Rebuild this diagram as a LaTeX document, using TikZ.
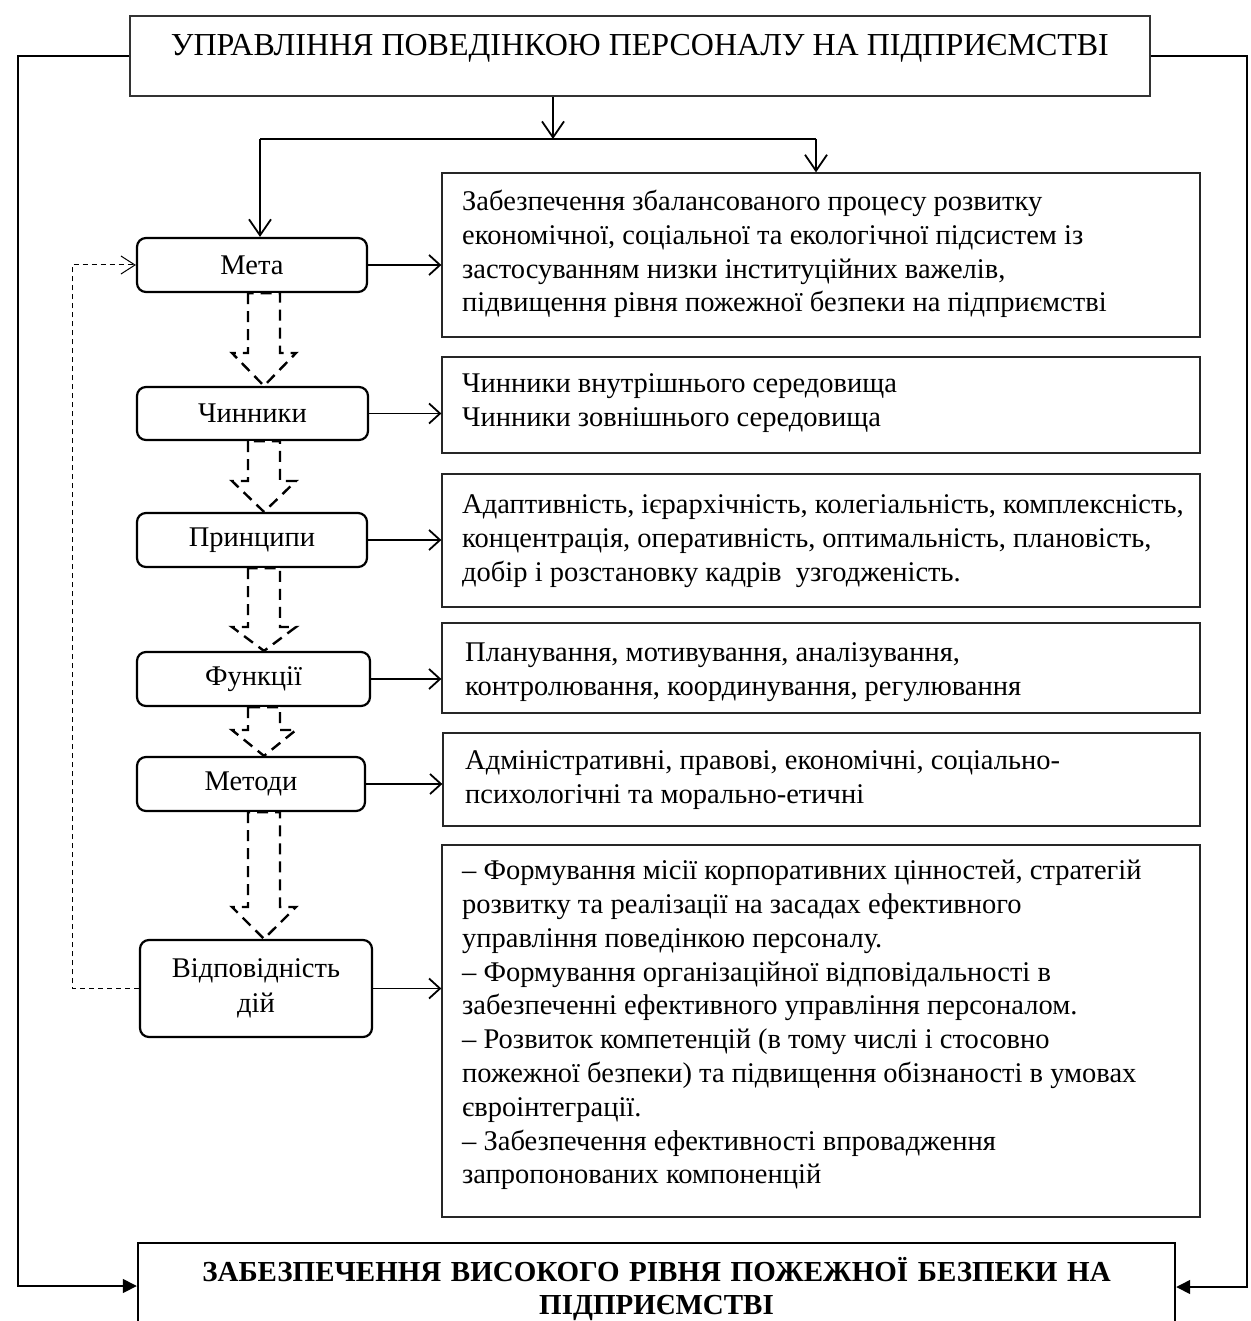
\documentclass[tikz,border=0pt]{standalone}
\usepackage{fontspec}
\setmainfont{Liberation Serif}
\usetikzlibrary{arrows.meta}
\begin{document}
\begin{tikzpicture}[x=1pt,y=-1pt,
 lbox/.style={draw, rounded corners=9pt, line width=2.2pt, align=center, inner sep=0pt, font=\fontsize{28.5}{35}\selectfont},
 rbox/.style={draw=black!85, line width=1.3pt, inner sep=0pt, minimum width=758pt},
 rtext/.style={align=left, inner sep=0pt, anchor=west, font=\fontsize{28.5}{33.8}\selectfont},
 conn/.style={line width=1.8pt, -{Straight Barb[length=16pt,width=22pt]}},
 hconn/.style={line width=1.8pt, -{Straight Barb[length=11pt,width=20pt]}},
 blockarr/.style={draw, fill=white, line width=2.4pt, dash pattern=on 11pt off 7pt},
 fb/.style={line width=1pt, dash pattern=on 5pt off 4pt, -{Straight Barb[length=14pt,width=18pt]}},
 side/.style={line width=1.5pt, -{Triangle[length=14pt,width=14pt]}}
]
\useasboundingbox (0,0) rectangle (1250,1321);
\clip (0,0) rectangle (1250,1321);
\fill[white] (0,0) rectangle (1250,1321);

% title
\node[draw=black!80, line width=1.3pt, minimum width=1020pt, minimum height=80pt,
      text height=24pt, text depth=25pt, inner sep=0pt,
      font=\fontsize{32}{38}\selectfont] (title) at (640,56)
      {УПРАВЛІННЯ ПОВЕДІНКОЮ ПЕРСОНАЛУ НА ПІДПРИЄМСТВІ};

% left boxes
\node[lbox, minimum width=230pt, minimum height=54pt] (meta) at (252,265) {Мета};
\node[lbox, minimum width=231pt, minimum height=53pt] (chyn) at (252.5,413.5) {Чинники};
\node[lbox, minimum width=230pt, minimum height=54pt] (pryn) at (252,540) {Принципи};
\node[lbox, minimum width=233pt, minimum height=54pt] (funk) at (253.5,679) {Функції};
\node[lbox, minimum width=228pt, minimum height=54pt] (meto) at (251,784) {Методи};
\node[lbox, minimum width=232pt, minimum height=97pt] (vid) at (256,988.5) {Відповідність\\дій};

% right boxes
\node[rbox, minimum height=164pt] (r1) at (821,255) {};
\node[rtext] (t1) at (462,254) {Забезпечення збалансованого процесу розвитку\\економічної, соціальної та екологічної підсистем із\\застосуванням низки інституційних важелів,\\підвищення рівня пожежної безпеки на підприємстві};

\node[rbox, minimum height=96pt] (r2) at (821,405) {};
\node[rtext] (t2) at (462,403) {Чинники внутрішнього середовища\\Чинники зовнішнього середовища};

\node[rbox, minimum height=133pt] (r3) at (821,540.5) {};
\node[rtext] (t3) at (462,541) {Адаптивність, ієрархічність, колегіальність, комплексність,\\концентрація, оперативність, оптимальність, плановість,\\добір і розстановку кадрів~ узгодженість.};

\node[rbox, minimum height=90pt] (r4) at (821,668) {};
\node[rtext] (t4) at (465,672) {Планування, мотивування, аналізування,\\контролювання, координування, регулювання};

\node[rbox, minimum height=93pt, minimum width=757pt] (r5) at (821.5,779.5) {};
\node[rtext] (t5) at (465,780) {Адміністративні, правові, економічні, соціально-\\психологічні та морально-етичні};

\node[rbox, minimum height=372pt] (r6) at (821,1031) {};
\node[rtext] (t6) at (462,1025) {– Формування місії корпоративних цінностей, стратегій\\розвитку та реалізації на засадах ефективного\\управління поведінкою персоналу.\\– Формування організаційної відповідальності в\\забезпеченні ефективного управління персоналом.\\– Розвиток компетенцій (в тому числі і стосовно\\пожежної безпеки) та підвищення обізнаності в умовах\\євроінтеграції.\\– Забезпечення ефективності впровадження\\запропонованих компоненцій};

% bottom box
\node[draw, line width=2.4pt, minimum width=1037pt, anchor=north, text width=1010pt,
      align=center, inner xsep=0pt, inner ysep=14pt,
      font=\bfseries\fontsize{29}{33}\selectfont] (bot) at (656.5,1242)
      {\strut ЗАБЕЗПЕЧЕННЯ ВИСОКОГО РІВНЯ ПОЖЕЖНОЇ БЕЗПЕКИ НА\\ПІДПРИЄМСТВІ};

% top connectors
\coordinate (j) at (553,139);
\coordinate (jl) at (260,139);
\coordinate (jr) at (816,139);
\draw[conn] (j |- title.south) -- (j);
\draw[line width=1.8pt] (jl) -- (jr);
\draw[conn] (jl) -- (jl |- meta.north);
\draw[conn] (jr) -- (jr |- r1.north);

% horizontal connectors
\draw[hconn] (meta.east) -- (meta.east -| r1.west);
\draw[hconn] (chyn.east) -- (chyn.east -| r2.west);
\draw[hconn] (pryn.east) -- (pryn.east -| r3.west);
\draw[hconn] (funk.east) -- (funk.east -| r4.west);
\draw[hconn] (meto.east) -- (meto.east -| r5.west);
\draw[hconn] (vid.east) -- (vid.east -| r6.west);

% side lines
\coordinate (lc) at (18,1286);
\coordinate (rc) at (1247,1287);
\draw[side] (title.west) -- (title.west -| lc) -- (lc) -- (lc -| bot.west);
\draw[side] (title.east) -- (title.east -| rc) -- (rc) -- (rc -| bot.east);

% feedback dashed
\coordinate (fbx) at (72,0);
\draw[fb] (vid.west) -- (vid.west -| fbx) -- (fbx |- meta.west) -- (meta.west);

% dashed block arrows
\coordinate (aL) at (248,0);
\coordinate (aR) at (280,0);
\coordinate (aC) at (264,0);
\newcommand\dblarrow[3]{\filldraw[blockarr] (aL |- #1.south) -- (248,#3) -- (232,#3) -- (aC |- #2.north) -- (296,#3) -- (280,#3) -- (aR |- #1.south) -- cycle;}
\dblarrow{meta}{chyn}{353}
\dblarrow{chyn}{pryn}{481}
\dblarrow{pryn}{funk}{627}
\dblarrow{funk}{meto}{730}
\dblarrow{meto}{vid}{907}
\end{tikzpicture}
\end{document}
